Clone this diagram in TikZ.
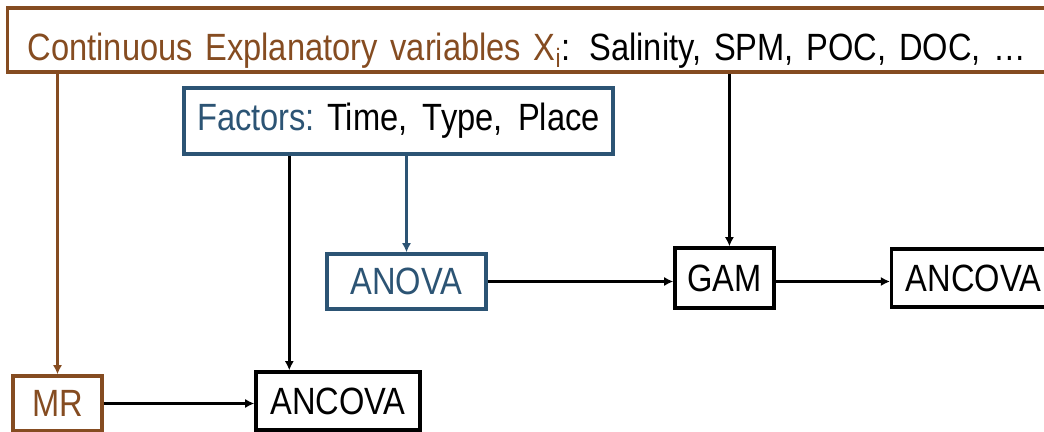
\documentclass[tikz,border=0pt]{standalone}
\usepackage{fontspec}
\setmainfont{Liberation Sans}[FakeStretch=0.86]
\usetikzlibrary{arrows.meta,positioning}

\definecolor{rustbrown}{RGB}{133,76,33}
\definecolor{steelblue}{RGB}{44,84,116}

\begin{document}
\begin{tikzpicture}
        [
            x = 0.025cm, y = -0.025cm,
            boxed/.style      = {shape=rectangle, draw, line width=2.4pt, align=center, inner sep=0pt},
            edge/.style       = {draw, line width=2.3pt, -{Latex[length=6.5pt, width=6.5pt]}},
            every node/.style = {font=\fontsize{27}{30}\selectfont},
        ]
        \clip (0,0) rectangle (1044,432);
        \fill[white] (0,0) rectangle (1044,432);

        % inputs
        \node [boxed, draw=rustbrown, anchor=west, minimum height=1.6cm, text width=27cm, align=left, inner xsep=0.5cm,
               text height=1cm, text depth=0pt]
            (cont) at (6,40) {\textcolor{rustbrown}{Continuous Explanatory variables X\textsubscript{i}}: Salinity, SPM, POC, DOC, \ldots};
        \node [boxed, draw=steelblue, minimum width=10.725cm, minimum height=1.65cm]
            (fac) at (398.5,121) {\textcolor{steelblue}{Factors:} Time,\, Type,\, Place};

        % models
        \node [boxed, draw=rustbrown, text=rustbrown, minimum width=2.225cm, minimum height=1.375cm] (mr) at (57.5,403.5) {MR};
        \node [boxed, minimum width=4.1cm, minimum height=1.45cm] (anc1) at (338,401) {ANCOVA};
        \node [boxed, draw=steelblue, text=steelblue, minimum width=3.975cm, minimum height=1.375cm] (anova) at (406.5,281.5) {ANOVA};
        \node [boxed, minimum width=2.475cm, minimum height=1.5cm] (gam) at (724.5,278) {GAM};
        \node [boxed, minimum width=4.1cm, minimum height=1.45cm, anchor=west] (anc2) at (890,278) {ANCOVA};

        \draw [edge, rustbrown] (mr.north |- cont.south) -- (mr.north);
        \draw [edge] ([xshift=3.5pt]gam.north |- cont.south) -- ([xshift=3.5pt]gam.north);
        \draw [edge, steelblue] (anova.north |- fac.south) -- (anova.north);
        \draw [edge] ([xshift=0.875cm]anc1.north west |- fac.south) -- ([xshift=0.875cm]anc1.north west);
        \draw [edge] (mr.east) -- (anc1.west |- mr.east);
        \draw [edge] (anova.east) -- (gam.west |- anova.east);
        \draw [edge] (gam.east |- anova.east) -- (anc2.west |- anova.east);
    \end{tikzpicture}
\end{document}
